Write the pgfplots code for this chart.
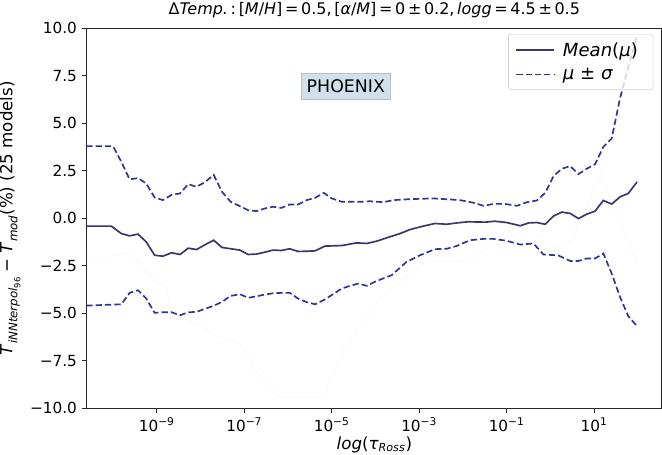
\documentclass[border=0pt]{standalone}
\usepackage{fontspec}
\setmainfont{DejaVu Sans}
\usepackage{pgfplots}
\usepackage{pgfplotstable}
\pgfplotsset{compat=1.18}

\definecolor{meancol}{RGB}{55,55,105}
\definecolor{sigcol}{RGB}{50,50,150}
\definecolor{boxfill}{RGB}{208,225,236}
\definecolor{faint}{RGB}{249,249,251}

% x column = log10(tau_Ross)
\pgfplotstableread{
lt val
-10.61 -0.42
-10.04 -0.42
-9.81 -0.81
-9.62 -0.93
-9.43 -0.84
-9.24 -1.25
-9.05 -1.95
-8.86 -2.00
-8.66 -1.82
-8.47 -1.91
-8.28 -1.58
-8.09 -1.65
-7.90 -1.40
-7.70 -1.16
-7.51 -1.54
-7.31 -1.61
-7.10 -1.68
-6.91 -1.91
-6.72 -1.89
-6.53 -1.79
-6.34 -1.68
-6.15 -1.70
-5.96 -1.61
-5.77 -1.75
-5.57 -1.74
-5.38 -1.72
-5.16 -1.47
-4.77 -1.44
-4.43 -1.30
-4.20 -1.33
-3.97 -1.21
-3.67 -0.98
-3.44 -0.81
-3.21 -0.60
-2.91 -0.42
-2.64 -0.28
-2.37 -0.32
-2.14 -0.25
-1.88 -0.19
-1.49 -0.21
-1.27 -0.16
-1.00 -0.23
-0.69 -0.40
-0.50 -0.25
-0.31 -0.23
-0.12 -0.32
0.07 0.11
0.26 0.32
0.45 0.25
0.64 -0.02
0.83 0.21
1.02 0.37
1.21 0.93
1.40 0.74
1.59 1.12
1.78 1.30
1.98 1.91
}\meandata

\pgfplotstableread{
lt val
-10.61 3.79
-10.00 3.79
-9.81 2.96
-9.62 2.04
-9.43 2.11
-9.24 1.82
-9.05 1.09
-8.86 0.95
-8.66 1.23
-8.47 1.30
-8.28 1.79
-8.09 1.65
-7.90 1.89
-7.70 2.28
-7.51 1.39
-7.31 0.86
-7.10 0.63
-6.91 0.42
-6.72 0.37
-6.53 0.51
-6.34 0.60
-6.15 0.54
-5.96 0.72
-5.77 0.72
-5.57 0.95
-5.38 1.07
-5.18 1.33
-5.00 1.04
-4.77 0.86
-4.35 0.86
-4.13 0.89
-3.82 0.84
-3.59 0.95
-3.21 1.00
-2.68 1.04
-2.07 0.95
-1.76 0.81
-1.53 0.65
-1.30 0.75
-1.04 0.75
-0.77 0.65
-0.54 0.84
-0.31 0.93
-0.12 1.33
0.07 2.21
0.26 2.60
0.45 2.74
0.64 2.32
0.83 2.60
1.02 2.84
1.21 3.75
1.40 4.19
1.59 6.30
1.78 7.96
1.98 9.60
}\upperdata

\pgfplotstableread{
lt val
-10.61 -4.60
-9.81 -4.53
-9.62 -3.93
-9.43 -3.79
-9.24 -4.23
-9.05 -4.98
-8.86 -4.95
-8.66 -4.95
-8.47 -5.11
-8.28 -4.95
-8.09 -4.93
-7.90 -4.77
-7.70 -4.61
-7.51 -4.40
-7.31 -4.09
-7.10 -4.00
-6.91 -4.19
-6.72 -4.11
-6.53 -4.02
-6.34 -3.95
-6.15 -3.93
-5.96 -3.93
-5.77 -4.23
-5.57 -4.42
-5.38 -4.53
-5.16 -4.28
-4.97 -4.00
-4.77 -3.70
-4.58 -3.56
-4.39 -3.44
-4.20 -3.56
-3.97 -3.30
-3.63 -3.00
-3.29 -2.30
-2.98 -1.95
-2.64 -1.63
-2.37 -1.61
-2.14 -1.46
-1.84 -1.16
-1.53 -1.09
-1.30 -1.09
-1.00 -1.19
-0.69 -1.39
-0.39 -1.33
-0.16 -1.91
0.18 -1.96
0.45 -2.25
0.64 -2.25
0.83 -2.12
1.02 -2.12
1.21 -1.86
1.40 -2.91
1.59 -4.14
1.78 -5.16
1.98 -5.68
}\lowerdata

% barely visible single-model curve behind the statistics
\pgfplotstableread{
lt val
-10.61 -2.0
-10.00 -2.0
-9.60 -1.8
-9.05 -3.3
-8.80 -3.6
-8.66 -4.9
-7.60 -6.2
-7.10 -6.6
-6.60 -8.5
-6.20 -9.4
-5.20 -9.4
-4.70 -6.8
-3.90 -4.2
-2.80 -2.2
-2.40 -2.3
-1.90 -2.2
-1.10 -1.2
-0.50 -0.5
0.10 -1.5
0.45 -1.3
1.15 2.3
1.98 -2.4
}\faintdata

\begin{document}
\begin{tikzpicture}
\begin{axis}[
  scale only axis, width=414pt, height=273.6pt,
  xmode=log, xmin=2.5e-11, xmax=355,
  ymin=-10, ymax=10,
  xtick={1e-9,1e-7,1e-5,1e-3,1e-1,1e1},
  xticklabels={10\textsuperscript{−9},10\textsuperscript{−7},10\textsuperscript{−5},10\textsuperscript{−3},10\textsuperscript{−1},10\textsuperscript{1}},
  xminorticks=false,
  ytick={-10,-7.5,-5,-2.5,0,2.5,5,7.5,10},
  yticklabels={−10.0,−7.5,−5.0,−2.5,0.0,2.5,5.0,7.5,10.0},
  tick align=outside, tick pos=left,
  major tick length=3.5pt,
  tick style={black!85, line width=0.8pt},
  axis line style={black!85, line width=0.8pt},
  ticklabel style={font=\fontsize{11}{13}\selectfont},
  xlabel={\textit{log}(\textit{τ}\textsubscript{\textit{Ross}})},
  xlabel style={yshift=3.5pt},
  ylabel={\textit{T}\raisebox{-0.3em}{\fontsize{8.5}{9}\selectfont\textit{iNNterpol}\raisebox{-0.25em}{\fontsize{6}{7}\selectfont 96}} − \textit{T}\raisebox{-0.3em}{\fontsize{8.5}{9}\selectfont\textit{mod}}(\%) (25 models)},
  label style={font=\fontsize{12}{14}\selectfont},
  title={Δ\textit{Temp.}\,:\,[\textit{M}/\textit{H}]\,=\,0.5,\,[\textit{α}/\textit{M}]\,=\,0\,±\,0.2,\,\textit{logg}\,=\,4.5\,±\,0.5},
  title style={font=\fontsize{11.5}{13}\selectfont, yshift=-2.5pt},
  legend style={at={(0.985,0.985)}, anchor=north east, draw=black!18, rounded corners=2pt,
    fill=white, fill opacity=0.8, text opacity=1, font=\fontsize{13}{15}\selectfont,
    row sep=3pt, inner xsep=5pt, inner ysep=4pt, nodes={inner xsep=6pt}},
  legend cell align=left,
  legend image code/.code={\draw[#1] (0pt,0pt) -- (27pt,0pt);},
]
\addplot[faint, line width=0.8pt, forget plot] table[x expr={10^(\thisrow{lt})}, y=val] {\faintdata};
\addplot[meancol, line width=1.2pt] table[x expr={10^(\thisrow{lt})}, y=val] {\meandata};
\addlegendentry{\textit{Mean}(\textit{μ})}
\addplot[sigcol, line width=1.2pt, dash pattern=on 4.5pt off 2.2pt] table[x expr={10^(\thisrow{lt})}, y=val] {\upperdata};
\addlegendentry{\textit{μ} ± \textit{σ}}
\addplot[sigcol, line width=1.2pt, dash pattern=on 4.5pt off 2.2pt, forget plot] table[x expr={10^(\thisrow{lt})}, y=val] {\lowerdata};
\node[fill=boxfill, draw=black!25, inner xsep=3.6pt, inner ysep=4.5pt,
  font=\fontsize{12.5}{14}\selectfont] at (axis cs:2.1e-5,6.95) {PHOENIX};
\end{axis}
\pgfresetboundingbox
\path[use as bounding box] ([xshift=-62.4pt,yshift=-33.1pt]current axis.south west) rectangle ([yshift=20.2pt]current axis.north east);
\end{tikzpicture}
\end{document}
